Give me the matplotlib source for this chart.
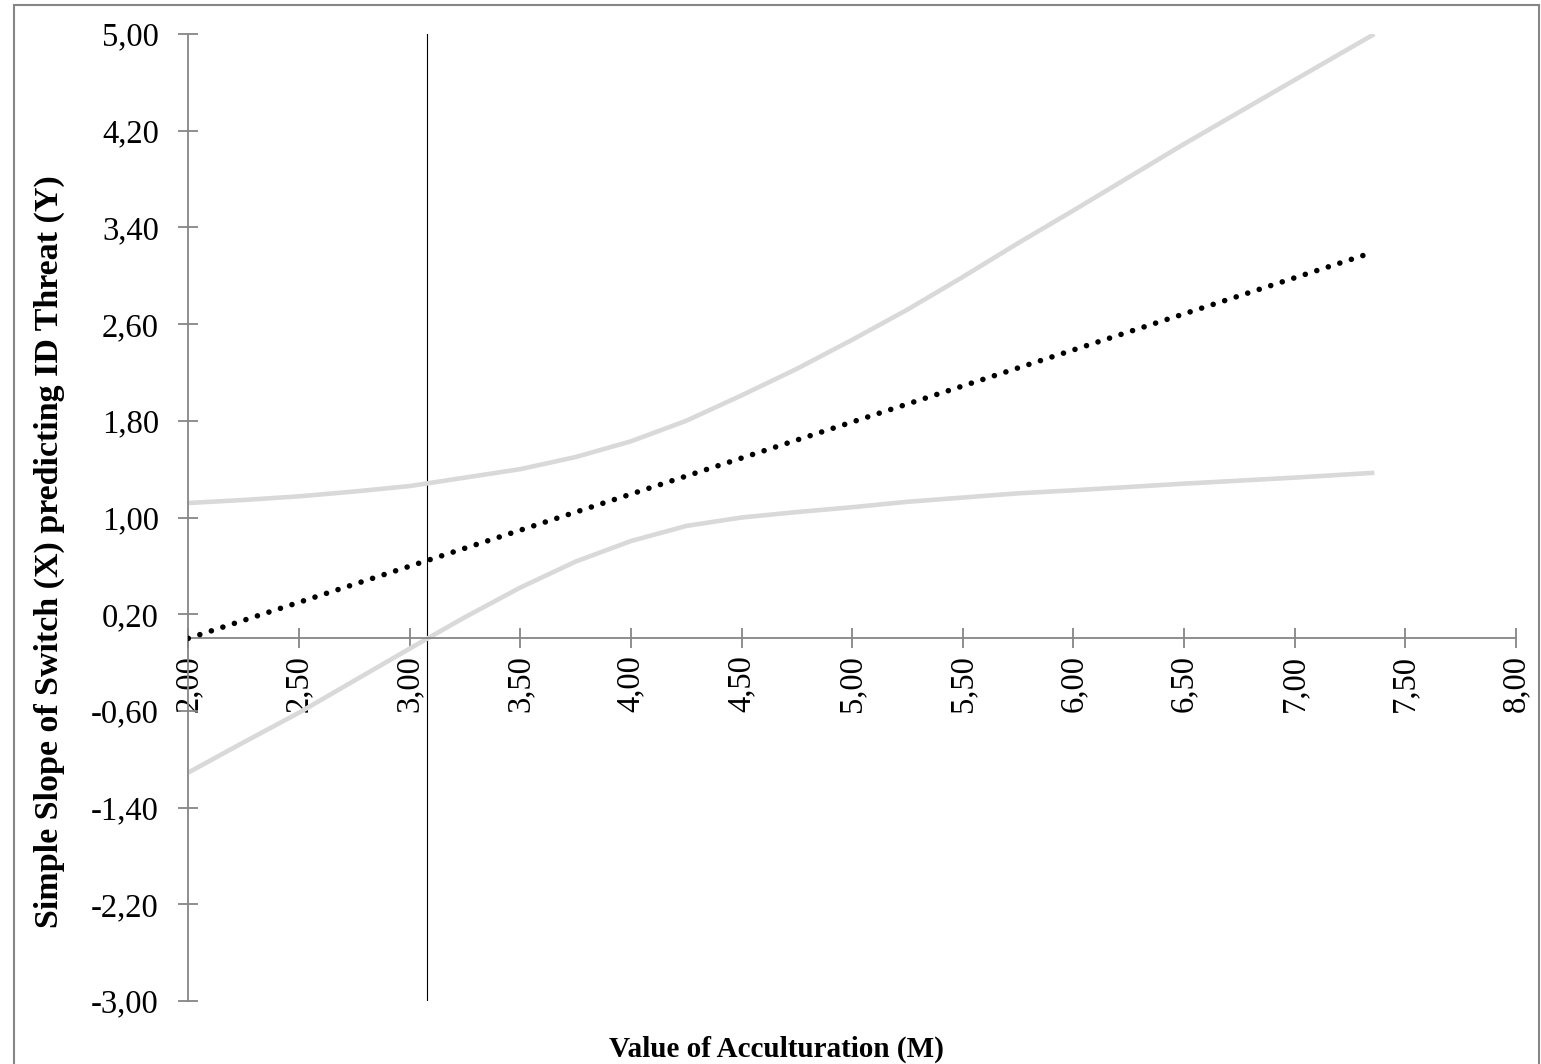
import numpy as np
import matplotlib.pyplot as plt
from matplotlib.patches import Rectangle

# simple slope of Switch on ID threat across acculturation, with 95% band
acc_x = [2.00, 2.25, 2.50, 2.75, 3.00, 3.25, 3.50, 3.75, 4.00, 4.25,
         4.50, 4.75, 5.00, 5.25, 5.50, 5.75, 6.00, 6.50, 7.00, 7.36]
upper = [1.12, 1.145, 1.175, 1.215, 1.26, 1.33, 1.40, 1.50, 1.63, 1.80,
         2.01, 2.23, 2.47, 2.72, 2.99, 3.27, 3.54, 4.09, 4.62, 5.00]
lower = [-1.11, -0.86, -0.615, -0.35, -0.085, 0.175, 0.42, 0.635, 0.805, 0.93,
         1.00, 1.045, 1.085, 1.13, 1.165, 1.20, 1.225, 1.28, 1.33, 1.37]
slope_x = [2.00, 7.33]
slope = [0.00, 3.18]
jn_point = 3.08  # where the lower bound crosses zero

yticks = [-3.0, -2.2, -1.4, -0.6, 0.2, 1.0, 1.8, 2.6, 3.4, 4.2, 5.0]
xticks = [2.0, 2.5, 3.0, 3.5, 4.0, 4.5, 5.0, 5.5, 6.0, 6.5, 7.0, 7.5, 8.0]


def comma(v):
    return f"{v:.2f}".replace('.', ',')


plt.rcParams['font.family'] = ['Liberation Serif', 'DejaVu Serif']
axis_grey = '#868686'

fig = plt.figure(figsize=(15.41, 10.64), dpi=100)
ax = fig.add_axes([188.3 / 1541, 1 - 1001 / 1064, 1327.7 / 1541, 967 / 1064])

ax.plot(acc_x, upper, color='#d9d9d9', lw=3.3, solid_capstyle='butt', zorder=2)
ax.plot(acc_x, lower, color='#d9d9d9', lw=3.3, solid_capstyle='butt', zorder=2)
ax.plot(slope_x, slope, color='black', lw=4.0, linestyle=(0, (0.01, 2.17)),
        dash_capstyle='round', zorder=3)
ax.plot([jn_point, jn_point], [yticks[0], yticks[-1]], color='black', lw=0.8, zorder=1)

ax.set_xlim(2, 8)
ax.set_ylim(-3, 5)
ax.spines['top'].set_visible(False)
ax.spines['right'].set_visible(False)
ax.spines['bottom'].set_position(('data', 0))
for s in ('left', 'bottom'):
    ax.spines[s].set_color(axis_grey)
    ax.spines[s].set_linewidth(1.3)

ax.set_yticks(yticks)
ax.set_yticklabels([comma(v) for v in yticks])
ax.set_xticks(xticks)
ax.set_xticklabels([comma(v) for v in xticks], rotation=90)
ax.tick_params(axis='both', direction='inout', length=14.4, width=1.3,
               color=axis_grey, labelsize=23.5, labelcolor='black')
ax.tick_params(axis='y', pad=14)
ax.tick_params(axis='x', pad=5)

fig.text(49 / 1541, 1 - 552 / 1064, 'Simple Slope of Switch (X) predicting ID Threat (Y)',
         rotation=90, ha='center', va='center', fontsize=24.5, fontweight='bold')
fig.text(776 / 1541, 1 - 1049 / 1064, 'Value of Acculturation (M)',
         ha='center', va='center', fontsize=21, fontweight='bold')

# chart frame
fig.patches.append(Rectangle((14 / 1541, -0.05), 1525 / 1541, 1.05 - 5 / 1064,
                             transform=fig.transFigure, fill=False,
                             edgecolor=axis_grey, lw=1.5))

fig.savefig('out.png', dpi=100)
